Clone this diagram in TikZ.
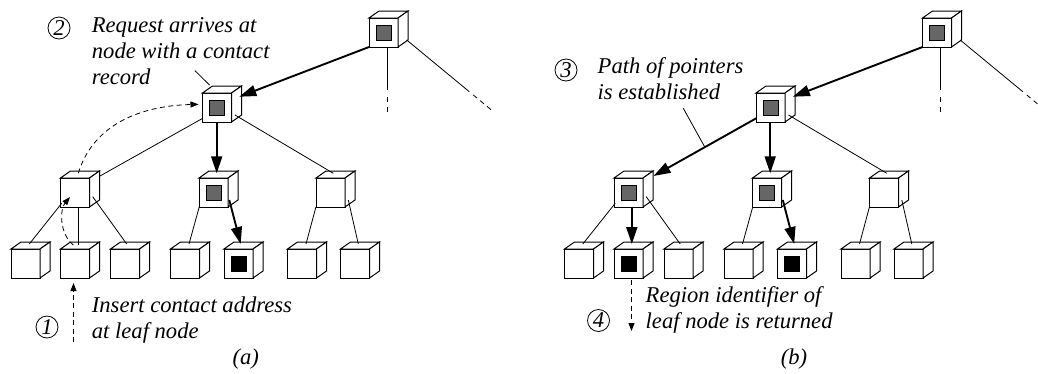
\documentclass[tikz,border=0pt]{standalone}
\usepackage{fontspec}
\setmainfont{Liberation Serif}
\usetikzlibrary{arrows.meta,calc}

\definecolor{coregray}{gray}{0.4}

\tikzset{
  face/.style={draw, line width=1pt, fill=white, minimum width=29pt,
    minimum height=29pt, inner sep=0pt, outer sep=0pt},
  cubeedge/.style={draw, line width=1pt, fill=white, line join=miter},
  core/.style={draw, line width=0.9pt, minimum size=15pt, inner sep=0pt, outer sep=0pt},
  branch/.style={line width=0.8pt},
  pointer/.style={line width=1.9pt, -{Triangle[length=17pt,width=11pt]}},
  hint/.style={line width=0.8pt, dash pattern=on 5pt off 3.5pt,
    -{Triangle[length=8pt,width=6pt]}},
  steptext/.style={font=\fontsize{22.6}{26}\selectfont\itshape, inner sep=0pt,
    anchor=base west},
  stepmark/.style={circle, draw, line width=0.8pt, minimum size=22pt, inner sep=0pt,
    font=\fontsize{22.6}{26}\selectfont\itshape},
  subcap/.style={font=\fontsize{22.6}{26}\selectfont\itshape, inner sep=0pt},
}

% a plain cube: front face node plus top and side faces
\newcommand\cubeat[2]{%
  \node[face] (#1) at (#2) {};
  \path[cubeedge] (#1.north west) -- ++(10,-7) -- ++(29,0) -- (#1.north east) -- cycle;
  \path[cubeedge] (#1.north east) -- ++(10,-7) -- ++(0,29) -- (#1.south east) -- cycle;
}
% a cube holding a record (filled inner square)
\newcommand\corecube[3]{%
  \cubeat{#1}{#2}
  \node[core, fill=#3] (#1-core) at (#1) {};
}
\newcommand\textrows[1]{\begin{tabular}[t]{@{}l@{}}#1\end{tabular}}

\begin{document}
\begin{tikzpicture}[x=1pt, y=-1pt]
\useasboundingbox (0,0) rectangle (1038,373);

% ---------------- (a) ----------------
\corecube{ra}{383.5,32.5}{coregray}
\corecube{ma}{217,107.5}{coregray}
\cubeat{la}{75,192.5}
\corecube{ca}{213.5,192.5}{coregray}
\cubeat{rta}{330.5,192.5}
\cubeat{a1}{25.5,263.5}
\cubeat{a2}{75,263.5}
\cubeat{a3}{125,263.5}
\cubeat{a4}{185,263.5}
\corecube{a5}{238.5,263.5}{black}
\cubeat{a6}{302,263.5}
\cubeat{a7}{355,263.5}

% tree edges
\draw[pointer] ($(ra)+(-14.5,14.5)$) -- ($(ma)+(22.3,-10.8)$);
\draw[branch]  ($(ma)+(-14.3,10.8)$) -- ($(la)+(25,-16.5)$);
\draw[pointer] ($(ma)+(-0.3,14.5)$) -- ($(ca)+(3.2,-19.2)$);
\draw[branch]  ($(ma)+(18,7.5)$) -- ($(rta)+(2.8,-19.2)$);
\draw[branch]  ($(la)+(-13.3,10.8)$) -- ($(a1)+(3.8,-19.5)$);
\draw[branch]  ($(la)+(3.3,14.5)$) -- ($(a2)+(3.3,-18.5)$);
\draw[branch]  ($(la)+(17.7,4.2)$) -- ($(a3)+(1.7,-19.5)$);
\draw[branch]  ($(ca)+(-14.2,14.2)$) -- ($(a4)+(4,-19.5)$);
\draw[pointer] ($(ca)+(15.8,7.5)$) -- ($(a5)+(2.2,-19.5)$);
\draw[branch]  ($(rta)+(-14.5,14.2)$) -- ($(a6)+(4,-19.5)$);
\draw[branch]  ($(rta)+(17.8,7.5)$) -- ($(a7)+(3.3,-19.5)$);

% root branches continuing out of view
\coordinate (ra-down) at ($(ra)+(3.8,57.5)$);
\draw[branch] ($(ra)+(3.8,14.5)$) -- (ra-down);
\draw[branch, dash pattern=on 5pt off 5pt] ($(ra-down)+(0,7)$) -- ++(0,15);
\coordinate (ra-side) at ($(ra)+(85.8,59.2)$);
\draw[branch] ($(ra)+(23.2,7.5)$) -- (ra-side);
\draw[branch, dash pattern=on 5pt off 4pt] ($(ra-side)+(3.9,3.2)$) -- ++(20.5,17);

% step 1: insertion at the leaf
\node[stepmark] (s1) at (47,327) {1};
\node[steptext] (t1) at (91.7,312) {\textrows{Insert contact address\\at leaf node}};
\coordinate (s1-from) at (73.5,342);
\draw[hint] (s1-from) -- ($(a2.south)+(-1.5,5)$);
\draw[hint] ($(a2)+(-1.7,-18.5)$) .. controls ($(a2)+(-16,-30)$) and ($(la)+(-15,16.5)$) .. ($(la)+(-5,4.5)$);

% step 2: request reaches the contact record
\node[stepmark] (s2) at (59,28) {2};
\node[steptext] (t2) at (91.7,32.5) {\textrows{Request arrives at\\node with a contact\\record}};
\coordinate (t2-lead) at (195,70.7);
\draw[branch] (t2-lead) -- ($(ma.north west)+(7,-8)$);
\draw[hint] ($(la)+(3.3,-19.2)$) .. controls ($(la)+(17,-64.5)$) and ($(ma)+(-82,-1.5)$) .. ($(ma)+(-18.5,-3.2)$);

\node[subcap] (capa) at (245.7,359) {(a)};

% ---------------- (b) ----------------
\corecube{rb}{937,32.5}{coregray}
\corecube{mb}{770.5,107.5}{coregray}
\corecube{lb}{628.5,192.5}{coregray}
\corecube{cb}{767,192.5}{coregray}
\cubeat{rtb}{884,192.5}
\cubeat{b1}{579,263.5}
\corecube{b2}{628.5,263.5}{black}
\cubeat{b3}{678.5,263.5}
\cubeat{b4}{738.5,263.5}
\corecube{b5}{792,263.5}{black}
\cubeat{b6}{855.5,263.5}
\cubeat{b7}{908.5,263.5}

\draw[pointer] ($(rb)+(-14.5,14.5)$) -- ($(mb)+(22.3,-10.8)$);
\draw[pointer] ($(mb)+(-14.3,10.8)$) -- ($(lb)+(25,-16.5)$);
\draw[pointer] ($(mb)+(-0.3,14.5)$) -- ($(cb)+(3.2,-19.2)$);
\draw[branch]  ($(mb)+(18,7.5)$) -- ($(rtb)+(2.8,-19.2)$);
\draw[branch]  ($(lb)+(-13.3,10.8)$) -- ($(b1)+(3.8,-19.5)$);
\draw[pointer] ($(lb)+(3.3,14.5)$) -- ($(b2)+(3.3,-19.5)$);
\draw[branch]  ($(lb)+(17.7,4.2)$) -- ($(b3)+(1.7,-19.5)$);
\draw[branch]  ($(cb)+(-14.2,14.2)$) -- ($(b4)+(4,-19.5)$);
\draw[pointer] ($(cb)+(15.8,7.5)$) -- ($(b5)+(2.2,-19.5)$);
\draw[branch]  ($(rtb)+(-14.5,14.2)$) -- ($(b6)+(4,-19.5)$);
\draw[branch]  ($(rtb)+(17.8,7.5)$) -- ($(b7)+(3.3,-19.5)$);

\coordinate (rb-down) at ($(rb)+(3.8,57.5)$);
\draw[branch] ($(rb)+(3.8,14.5)$) -- (rb-down);
\draw[branch, dash pattern=on 5pt off 5pt] ($(rb-down)+(0,7)$) -- ++(0,15);
\coordinate (rb-side) at ($(rb)+(85.8,59.2)$);
\draw[branch] ($(rb)+(23.2,7.5)$) -- (rb-side);
\draw[branch, dash pattern=on 5pt off 4pt] ($(rb-side)+(3.9,3.2)$) -- ++(20.5,17);

% step 3: the pointer path
\node[stepmark] (s3) at (566,70) {3};
\node[steptext] (t3) at (597.5,73.5) {\textrows{Path of pointers\\is established}};
\coordinate (t3-lead) at (683.3,108.3);
\draw[branch] (t3-lead) -- ($($(mb)+(-14.3,10.8)$)!0.5!($(lb)+(25,-16.5)$)$);

% step 4: answer goes back
\node[stepmark] (s4) at (598.5,320.5) {4};
\node[steptext] (t4) at (645.5,302) {\textrows{Region identifier of\\leaf node is returned}};
\coordinate (s4-to) at (631.5,331);
\draw[hint] ($(b2.south)+(3,2)$) -- (s4-to);

\node[subcap] (capb) at (794,359) {(b)};
\end{tikzpicture}
\end{document}
